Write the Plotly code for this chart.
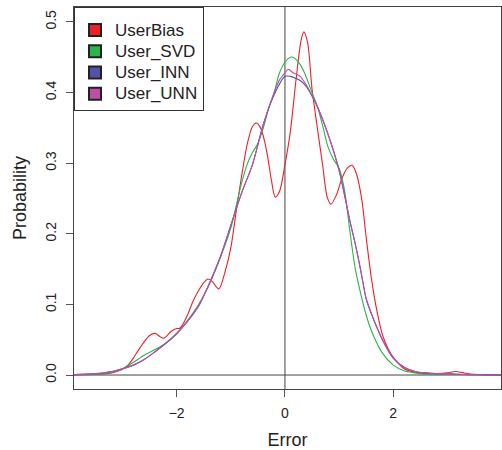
import plotly.graph_objects as go

# ---- data ----
series_names = ["UserBias", "User_SVD", "User_INN", "User_UNN"]
series_colors = ["#EE2027", "#2DB34A", "#5252A6", "#BC4FA8"]

bias_x = [-3.9, -3.5, -3.2, -3.0, -2.9, -2.8, -2.7, -2.6, -2.5, -2.4, -2.3, -2.25, -2.2, -2.1,
          -2.0, -1.95, -1.9, -1.8, -1.7, -1.6, -1.5, -1.42, -1.35, -1.22, -1.1, -1.0, -0.9,
          -0.8, -0.7, -0.6, -0.53, -0.45, -0.37, -0.3, -0.25, -0.18, -0.1, 0.0, 0.1, 0.2,
          0.3, 0.35, 0.42, 0.5, 0.6, 0.7, 0.78, 0.85, 0.95, 1.05, 1.15, 1.24, 1.32, 1.42,
          1.5, 1.6, 1.7, 1.8, 1.9, 2.0, 2.1, 2.2, 2.4, 2.6, 2.8, 3.0, 3.15, 3.3, 3.5, 3.99]
bias_y = [0.0, 0.001, 0.003, 0.008, 0.014, 0.024, 0.036, 0.047, 0.056, 0.059, 0.054, 0.052, 0.054, 0.062,
          0.066, 0.066, 0.070, 0.085, 0.104, 0.119, 0.131, 0.136, 0.133, 0.122, 0.148, 0.180, 0.232,
          0.282, 0.326, 0.352, 0.357, 0.350, 0.329, 0.300, 0.276, 0.252, 0.260, 0.298, 0.345, 0.415,
          0.475, 0.486, 0.470, 0.405, 0.349, 0.295, 0.252, 0.242, 0.255, 0.278, 0.293, 0.297, 0.285, 0.248,
          0.195, 0.135, 0.090, 0.057, 0.038, 0.025, 0.016, 0.009, 0.004, 0.002, 0.002, 0.003, 0.005, 0.003, 0.001, 0.0]

svd_x = [-3.9, -3.5, -3.2, -3.0, -2.8, -2.6, -2.4, -2.2, -2.0, -1.8, -1.6, -1.4, -1.2, -1.0, -0.9,
         -0.8, -0.7, -0.6, -0.5, -0.4, -0.3, -0.2, -0.1, 0.0, 0.1, 0.15, 0.25, 0.35, 0.5, 0.6,
         0.7, 0.8, 0.9, 1.0, 1.1, 1.2, 1.3, 1.4, 1.5, 1.6, 1.8, 2.0, 2.2, 2.4, 2.6, 3.0, 3.99]
svd_y = [0.0003, 0.001, 0.004, 0.009, 0.018, 0.028, 0.036, 0.045, 0.058, 0.077, 0.099, 0.128, 0.165, 0.208, 0.240,
         0.272, 0.298, 0.315, 0.328, 0.350, 0.378, 0.400, 0.428, 0.443, 0.450, 0.450, 0.443, 0.430, 0.400, 0.380,
         0.352, 0.322, 0.305, 0.293, 0.262, 0.203, 0.150, 0.115, 0.085, 0.062, 0.031, 0.014, 0.006, 0.003, 0.001, 0.001, 0.0]

inn_x = [-3.9, -3.5, -3.2, -3.0, -2.8, -2.6, -2.4, -2.2, -2.0, -1.8, -1.6, -1.4, -1.2, -1.0, -0.8,
         -0.6, -0.4, -0.2, 0.0, 0.1, 0.2, 0.3, 0.4, 0.5, 0.6, 0.8, 1.0, 1.2, 1.3, 1.4, 1.5, 1.6,
         1.8, 2.0, 2.2, 2.4, 2.6, 2.8, 3.0, 3.2, 3.5, 3.99]
inn_y = [0.0005, 0.002, 0.005, 0.009, 0.014, 0.022, 0.033, 0.045, 0.059, 0.076, 0.097, 0.129, 0.166, 0.212, 0.258,
         0.298, 0.355, 0.397, 0.423, 0.423, 0.420, 0.416, 0.408, 0.395, 0.380, 0.340, 0.290, 0.218, 0.185, 0.148, 0.108, 0.086,
         0.050, 0.024, 0.011, 0.005, 0.003, 0.002, 0.002, 0.001, 0.0005, 0.0]

unn_x = [-3.9, -3.5, -3.2, -3.0, -2.8, -2.6, -2.4, -2.2, -2.0, -1.8, -1.6, -1.4, -1.2, -1.0, -0.8,
         -0.6, -0.4, -0.2, -0.1, 0.0, 0.06, 0.15, 0.28, 0.4, 0.5, 0.6, 0.8, 1.0, 1.2, 1.3, 1.4, 1.5, 1.6,
         1.8, 2.0, 2.2, 2.4, 2.6, 2.8, 3.0, 3.2, 3.5, 3.99]
unn_y = [0.0005, 0.002, 0.005, 0.009, 0.014, 0.022, 0.033, 0.045, 0.059, 0.076, 0.097, 0.129, 0.166, 0.212, 0.258,
         0.298, 0.355, 0.400, 0.418, 0.428, 0.433, 0.428, 0.423, 0.410, 0.396, 0.380, 0.340, 0.290, 0.218, 0.185, 0.148, 0.108, 0.086,
         0.050, 0.024, 0.011, 0.005, 0.003, 0.002, 0.002, 0.001, 0.0005, 0.0]

x_tick_vals = [-2, 0, 2]
x_tick_text = ["\u22122", "0", "2"]
y_tick_vals = [0.0, 0.1, 0.2, 0.3, 0.4, 0.5]
y_tick_text = ["0.0", "0.1", "0.2", "0.3", "0.4", "0.5"]

FONT = "Liberation Sans, Arial, Helvetica, sans-serif"

fig = go.Figure()
all_x = [bias_x, svd_x, inn_x, unn_x]
all_y = [bias_y, svd_y, inn_y, unn_y]
for name, col, xs, ys in zip(series_names, series_colors, all_x, all_y):
    fig.add_trace(go.Scatter(x=xs, y=ys, mode="lines", name=name, showlegend=False,
                             line=dict(color=col, width=1.1, shape="spline", smoothing=0.8)))
# legend entries as filled squares
for name, col in zip(series_names, series_colors):
    fig.add_trace(go.Scatter(x=[None], y=[None], mode="markers",
                             name='<span style="font-size:17px">' + name + '</span>',
                             marker=dict(symbol="square", size=13, color=col,
                                         line=dict(color="#222", width=1))))

# reference lines at 0
fig.add_shape(type="line", xref="x", yref="paper", x0=0, x1=0, y0=0, y1=1,
              line=dict(color="#444", width=1), layer="below")
fig.add_shape(type="line", xref="paper", yref="y", x0=0, x1=1, y0=0, y1=0,
              line=dict(color="#444", width=1), layer="below")

fig.update_layout(
    width=502, height=450,
    margin=dict(l=74, r=1, t=7, b=61),
    paper_bgcolor="white", plot_bgcolor="white",
    font=dict(family=FONT, color="#222", size=14),
    legend=dict(x=0, y=1, xanchor="left", yanchor="top",
                bgcolor="white", bordercolor="#333", borderwidth=1,
                font=dict(size=14, family=FONT, color="#222"),
                title=dict(text=" ", font=dict(size=5)),
                tracegroupgap=0, itemsizing="constant"),
    xaxis=dict(range=[-3.896, 3.99], tickvals=x_tick_vals, ticktext=x_tick_text,
               ticks="outside", ticklen=7, tickcolor="#555", showgrid=False, zeroline=False,
               showline=True, mirror=True, linecolor="#444", linewidth=1,
               tickfont=dict(size=14), ticklabelstandoff=4,
               title=dict(text="Error", font=dict(size=18), standoff=14)),
    yaxis=dict(range=[-0.0198, 0.5212], tickvals=y_tick_vals, ticktext=y_tick_text,
               tickangle=-90, ticks="outside", ticklen=7, tickcolor="#555",
               showgrid=False, zeroline=False,
               showline=True, mirror=True, linecolor="#444", linewidth=1,
               tickfont=dict(size=14), ticklabelstandoff=4,
               title=dict(text="Probability", font=dict(size=18), standoff=12)),
)

fig.write_html("out.html")
